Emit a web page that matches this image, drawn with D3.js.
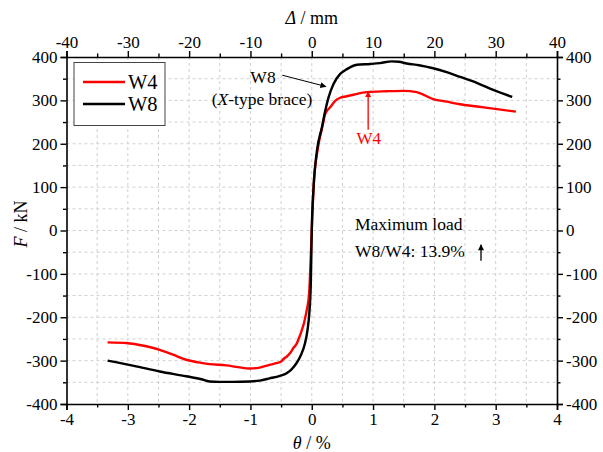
<!DOCTYPE html>
<html><head><meta charset="utf-8">
<script src="https://cdn.jsdelivr.net/npm/d3@7"></script>
<style>body{margin:0;background:#fff}svg{display:block}text{font-family:"Liberation Serif","Times New Roman",serif;fill:#000}</style>
</head><body>
<script>
const w8Theta = [-3.33,-2.9,-2.48,-2.05,-1.8,-1.67,-1.5,-1.3,-1.01,-0.85,-0.69,-0.52,-0.41,-0.33,-0.25,-0.18,-0.11,-0.07,-0.04,-0.015,0,0.03,0.085,0.166,0.22,0.274,0.355,0.464,0.574,0.736,0.953,1.114,1.307,1.42,1.55,1.75,1.98,2.2,2.42,2.7,2.96,3.27];
const w8F = [-300,-312,-325,-336,-343,-348,-349,-349,-348,-346,-341,-335,-329,-320,-306,-288,-260,-230,-191,-120,0,100,184,238,276,307,338,361,372,382,384,386,390,389,385,381,374,365,354,340,324,308];
const w4Theta = [-3.33,-3.0,-2.81,-2.48,-2.25,-2.05,-1.85,-1.67,-1.39,-1.2,-1.01,-0.85,-0.69,-0.58,-0.5,-0.45,-0.41,-0.35,-0.3,-0.25,-0.2,-0.09,-0.04,-0.02,0,0.03,0.1,0.166,0.22,0.248,0.3,0.383,0.464,0.55,0.68,0.9,1.22,1.5,1.71,1.98,2.2,2.42,2.7,2.96,3.33];
const w4F = [-258,-260,-264,-275,-287,-298,-304,-308,-311,-315,-318,-316,-310,-306,-302,-295,-291,-282,-271,-262,-245,-190,-140,-75,0,100,190,235,269,276,284,299,306,309,313,319,321,322,319,303,297,291,286,281,274];
const xTicks = [-4,-3,-2,-1,0,1,2,3,4];
const topTicks = [-40,-30,-20,-10,0,10,20,30,40];
const yTicks = [-400,-300,-200,-100,0,100,200,300,400];

const W = 603, H = 452;
const L = 66.5, R = 557, T = 57, B = 404;
const svg = d3.select("body").append("svg").attr("width", W).attr("height", H);
const x = d3.scaleLinear().domain([-4,4]).range([L,R]);
const xTop = d3.scaleLinear().domain([-40,40]).range([L,R]);
const y = d3.scaleLinear().domain([-400,400]).range([B,T]);

// grid
const gx = d3.range(-3.5,4,0.5), gy = d3.range(-350,400,50);
svg.append("g").selectAll("line").data(gx).join("line")
  .attr("x1", d=>x(d)).attr("x2", d=>x(d)).attr("y1", T).attr("y2", B)
  .attr("stroke","#d0d0d0").attr("stroke-dasharray","3,3").attr("stroke-width",1);
svg.append("g").selectAll("line").data(gy).join("line")
  .attr("y1", d=>y(d)).attr("y2", d=>y(d)).attr("x1", L).attr("x2", R)
  .attr("stroke","#d0d0d0").attr("stroke-dasharray","3,3").attr("stroke-width",1);

const fs = 17;
function styleAxis(g){
  g.attr("font-family", null);
  g.selectAll("path.domain").attr("stroke","#000").attr("stroke-width",1.6);
  g.selectAll("line").attr("stroke","#000").attr("stroke-width",1.4);
  g.selectAll("text").style("font-size", fs+"px");
}
function minor(g){ g.select(".domain").remove(); g.selectAll("line").attr("stroke","#000").attr("stroke-width",1.4); }
let g = svg.append("g").attr("transform",`translate(0,${B})`)
  .call(d3.axisBottom(x).tickValues(xTicks).tickFormat(d3.format("d")).tickSizeOuter(0).tickSize(6).tickPadding(3));
styleAxis(g);
svg.append("g").attr("transform",`translate(0,${B})`)
  .call(d3.axisBottom(x).tickValues(d3.range(-3.5,4,1)).tickFormat("").tickSize(3.5).tickSizeOuter(0)).call(minor);
g = svg.append("g").attr("transform",`translate(0,${T})`)
  .call(d3.axisTop(xTop).tickValues(topTicks).tickFormat(d3.format("d")).tickSizeOuter(0).tickSize(6).tickPadding(3));
styleAxis(g);
svg.append("g").attr("transform",`translate(0,${T})`)
  .call(d3.axisTop(xTop).tickValues(d3.range(-35,40,10)).tickFormat("").tickSize(3.5).tickSizeOuter(0)).call(minor);
g = svg.append("g").attr("transform",`translate(${L},0)`)
  .call(d3.axisLeft(y).tickValues(yTicks).tickFormat(d3.format("d")).tickSizeOuter(0).tickSize(6).tickPadding(3));
styleAxis(g);
svg.append("g").attr("transform",`translate(${L},0)`)
  .call(d3.axisLeft(y).tickValues(d3.range(-350,400,100)).tickFormat("").tickSize(3.5).tickSizeOuter(0)).call(minor);
g = svg.append("g").attr("transform",`translate(${R},0)`)
  .call(d3.axisRight(y).tickValues(yTicks).tickFormat(d3.format("d")).tickSizeOuter(0).tickSize(6).tickPadding(3));
styleAxis(g);
svg.append("g").attr("transform",`translate(${R},0)`)
  .call(d3.axisRight(y).tickValues(d3.range(-350,400,100)).tickFormat("").tickSize(3.5).tickSizeOuter(0)).call(minor);
svg.selectAll(".tick text").text(function(){return d3.select(this).text().replace("\u2212","-");});

// curves
const lineC = d3.line().x(d=>x(d[0])).y(d=>y(d[1])).curve(d3.curveMonotoneX);
svg.append("path").datum(w4Theta.map((t,i)=>[t,w4F[i]])).attr("d", lineC)
  .attr("fill","none").attr("stroke","#ff0000").attr("stroke-width",2.4).attr("stroke-linejoin","round");
svg.append("path").datum(w8Theta.map((t,i)=>[t,w8F[i]])).attr("d", lineC)
  .attr("fill","none").attr("stroke","#000").attr("stroke-width",2.4).attr("stroke-linejoin","round");

// axis titles
svg.append("text").attr("x", x(0)).attr("y", 449).attr("text-anchor","middle").style("font-size","18px")
  .html('<tspan font-style="italic">θ</tspan> / %');
svg.append("text").attr("x", x(0)).attr("y", 24).attr("text-anchor","middle").style("font-size","18px")
  .html('<tspan font-style="italic">Δ</tspan> / mm');
svg.append("text").attr("transform",`translate(27,${y(15)}) rotate(-90)`).attr("text-anchor","middle").style("font-size","18px")
  .html('<tspan font-style="italic">F</tspan> / kN');

// legend
svg.append("rect").attr("x",74).attr("y",62.5).attr("width",91).attr("height",63)
  .attr("fill","#fff").attr("stroke","#444").attr("stroke-width",1);
[["W4","#ff0000",82],["W8","#000",104]].forEach(([t,c,yy])=>{
  svg.append("line").attr("x1",83).attr("x2",125).attr("y1",yy).attr("y2",yy).attr("stroke",c).attr("stroke-width",2.4);
  svg.append("text").attr("x",128).attr("y",yy+7).style("font-size","20.5px").text(t);
});

// annotations
const defs = svg.append("defs");
function marker(id,color){
  defs.append("marker").attr("id",id).attr("viewBox","0 0 10 10").attr("refX",9).attr("refY",5)
    .attr("markerWidth",8).attr("markerHeight",6).attr("orient","auto-start-reverse").attr("markerUnits","userSpaceOnUse")
    .append("path").attr("d","M0,0 L10,5 L0,10 z").attr("fill",color);
}
marker("ak","#000"); marker("ar","#ff0000");
svg.append("text").attr("x",263).attr("y",83).attr("text-anchor","middle").style("font-size","17.5px").text("W8");
svg.append("text").attr("x",262).attr("y",105).attr("text-anchor","middle").style("font-size","17.5px")
  .html('(<tspan font-style="italic">X</tspan>-type brace)');
svg.append("line").attr("x1",x(-0.48)).attr("y1",y(358)).attr("x2",x(0.23)).attr("y2",y(332))
  .attr("stroke","#000").attr("stroke-width",1).attr("marker-end","url(#ak)");
svg.append("line").attr("x1",x(0.92)).attr("y1",y(232)).attr("x2",x(0.92)).attr("y2",y(320))
  .attr("stroke","#ff0000").attr("stroke-width",1.3).attr("marker-end","url(#ar)");
svg.append("text").attr("x",x(0.93)).attr("y",144).attr("text-anchor","middle").style("font-size","17px").style("fill","#ff0000").text("W4");
svg.append("text").attr("x",355).attr("y",230).style("font-size","17.5px").text("Maximum load");
svg.append("text").attr("x",355).attr("y",257).style("font-size","17.5px").text("W8/W4: 13.9%");
svg.append("line").attr("x1",481).attr("y1",y(-70)).attr("x2",481).attr("y2",y(-33))
  .attr("stroke","#000").attr("stroke-width",1.3).attr("marker-end","url(#ak)");
</script>
</body></html>
